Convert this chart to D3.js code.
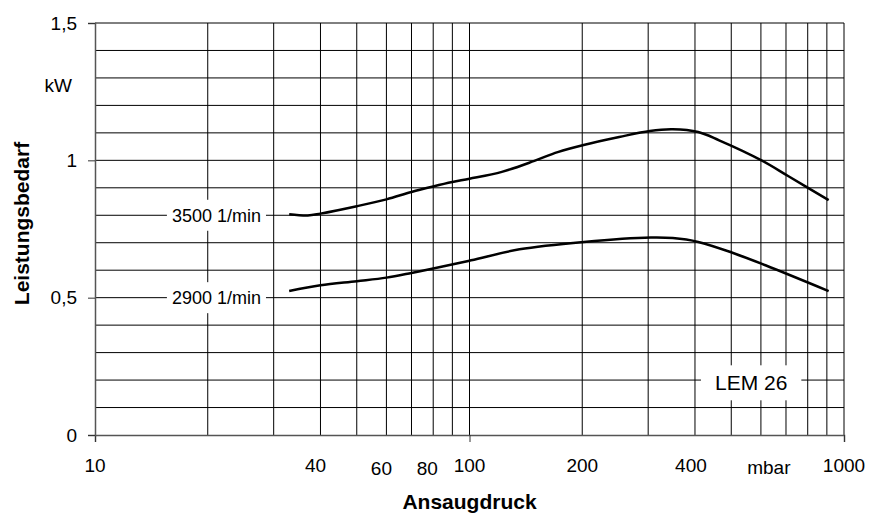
<!DOCTYPE html>
<html>
<head>
<meta charset="utf-8">
<script src="https://cdn.jsdelivr.net/npm/d3@7"></script>
<style>
  body { margin: 0; background: #fff; }
  svg text { font-family: "Liberation Sans", Arial, sans-serif; fill: #000; }
</style>
</head>
<body>
<div id="chart"></div>
<script>
// values
const xTicks = [10, 40, 60, 80, 100, 200, 400, 1000];
const xGrid = [20, 30, 40, 50, 60, 70, 80, 90, 100, 200, 300, 400, 500, 600, 700, 800, 900, 1000];
const yTicks = [0, 0.5, 1, 1.5];
const yGrid = [0.1, 0.2, 0.3, 0.4, 0.5, 0.6, 0.7, 0.8, 0.9, 1, 1.1, 1.2, 1.3, 1.4, 1.5];

const p3500 = [33, 37, 40, 50, 60, 70, 80, 90, 100, 122, 149, 172, 203, 251, 303, 349, 408, 464, 602, 711, 910];
const v3500 = [0.804, 0.799, 0.806, 0.833, 0.858, 0.885, 0.905, 0.921, 0.933, 0.958, 0.998, 1.03, 1.057, 1.085, 1.107, 1.113, 1.103, 1.073, 1.0, 0.942, 0.855];

const p2900 = [33, 40, 50, 60, 70, 80, 101, 136, 202, 305, 349, 408, 510, 617, 910];
const v2900 = [0.524, 0.545, 0.56, 0.573, 0.59, 0.606, 0.636, 0.676, 0.703, 0.719, 0.717, 0.703, 0.661, 0.618, 0.524];

const curveLabels = [
  { text: "3500 1/min", x: 21.1, y: 0.8 },
  { text: "2900 1/min", x: 21.1, y: 0.5 }
];

const margin = { top: 23, right: 26, bottom: 81, left: 95 };
const width = 870 - margin.left - margin.right;
const height = 516 - margin.top - margin.bottom;

const svg = d3
  .select("#chart")
  .append("svg")
  .attr("width", 870)
  .attr("height", 516);

const g = svg.append("g").attr("transform", `translate(${margin.left}, ${margin.top})`);

const x = d3.scaleLog().domain([10, 1000]).range([0, width]);
const y = d3.scaleLinear().domain([0, 1.5]).range([height, 0]);

// grid
g.selectAll(".hgrid")
  .data(yGrid)
  .join("line")
  .attr("x1", 0)
  .attr("x2", width)
  .attr("y1", (d) => y(d))
  .attr("y2", (d) => y(d))
  .attr("stroke", "#000")
  .attr("stroke-width", 1);

g.selectAll(".vgrid")
  .data(xGrid)
  .join("line")
  .attr("x1", (d) => x(d))
  .attr("x2", (d) => x(d))
  .attr("y1", 0)
  .attr("y2", height)
  .attr("stroke", "#000")
  .attr("stroke-width", 1);

// axes
const xAxis = g
  .append("g")
  .attr("transform", `translate(0, ${height})`)
  .call(d3.axisBottom(x).tickValues([10, 100, 1000]).tickSize(7).tickFormat(""));
const yAxis = g.append("g").call(d3.axisLeft(y).tickValues(yTicks).tickSize(7).tickFormat(""));
[xAxis, yAxis].forEach((a) => {
  a.select(".domain").attr("stroke", "#555").attr("stroke-width", 1.5);
  a.selectAll(".tick line").attr("stroke", "#333");
});

// tick labels (the printed ones sit a little off their lines)
const nudge = { 40: [-5, 0], 60: [-5, 3], 80: [-6, 3], 400: [-4, 0] };
g.selectAll(".xlab")
  .data(xTicks)
  .join("text")
  .attr("x", (d) => x(d) + (nudge[d] ? nudge[d][0] : 0))
  .attr("y", (d) => height + 37 + (nudge[d] ? nudge[d][1] : 0))
  .attr("text-anchor", "middle")
  .style("font-size", "19px")
  .text((d) => d);

g.append("text")
  .attr("x", x(630))
  .attr("y", height + 39)
  .attr("text-anchor", "middle")
  .style("font-size", "19px")
  .text("mbar");

g.selectAll(".ylab")
  .data(yTicks)
  .join("text")
  .attr("x", -18)
  .attr("y", (d) => y(d))
  .attr("dy", "0.35em")
  .attr("text-anchor", "end")
  .style("font-size", "19px")
  .text((d) => String(d).replace(".", ","));

g.append("text")
  .attr("x", -23)
  .attr("y", y(1.273))
  .attr("dy", "0.35em")
  .attr("text-anchor", "end")
  .style("font-size", "19px")
  .text("kW");

// axis titles
svg.append("text")
  .attr("x", margin.left + width / 2)
  .attr("y", 509)
  .attr("text-anchor", "middle")
  .style("font-size", "21px")
  .style("font-weight", "bold")
  .text("Ansaugdruck");

svg.append("text")
  .attr("transform", `translate(28.5, ${margin.top + y(0.77)}) rotate(-90)`)
  .attr("text-anchor", "middle")
  .style("font-size", "21px")
  .style("font-weight", "bold")
  .text("Leistungsbedarf");

// labels on white boxes that cut the grid
function boxedLabel(text, cx, cy, size, padX, padY) {
  const lg = g.append("g");
  const rect = lg.append("rect").attr("fill", "#fff");
  const t = lg
    .append("text")
    .attr("x", cx)
    .attr("y", cy)
    .attr("dy", "0.35em")
    .attr("text-anchor", "middle")
    .style("font-size", size + "px")
    .text(text);
  const b = t.node().getBBox();
  rect
    .attr("x", b.x - padX)
    .attr("y", cy - b.height / 2 - padY)
    .attr("width", b.width + 2 * padX)
    .attr("height", b.height + 2 * padY);
}

curveLabels.forEach((d) => boxedLabel(d.text, x(d.x), y(d.y), 18, 5, 5.5));
boxedLabel("LEM 26", x(565), y(0.19), 21, 14, 6);

// curves
const line = d3
  .line()
  .x((d) => x(d[0]))
  .y((d) => y(d[1]))
  .curve(d3.curveCatmullRom);

[[p3500, v3500], [p2900, v2900]].forEach(([ps, vs]) => {
  g.append("path")
    .datum(ps.map((p, i) => [p, vs[i]]))
    .attr("d", line)
    .attr("fill", "none")
    .attr("stroke", "#000")
    .attr("stroke-width", 2.5);
});
</script>
</body>
</html>
